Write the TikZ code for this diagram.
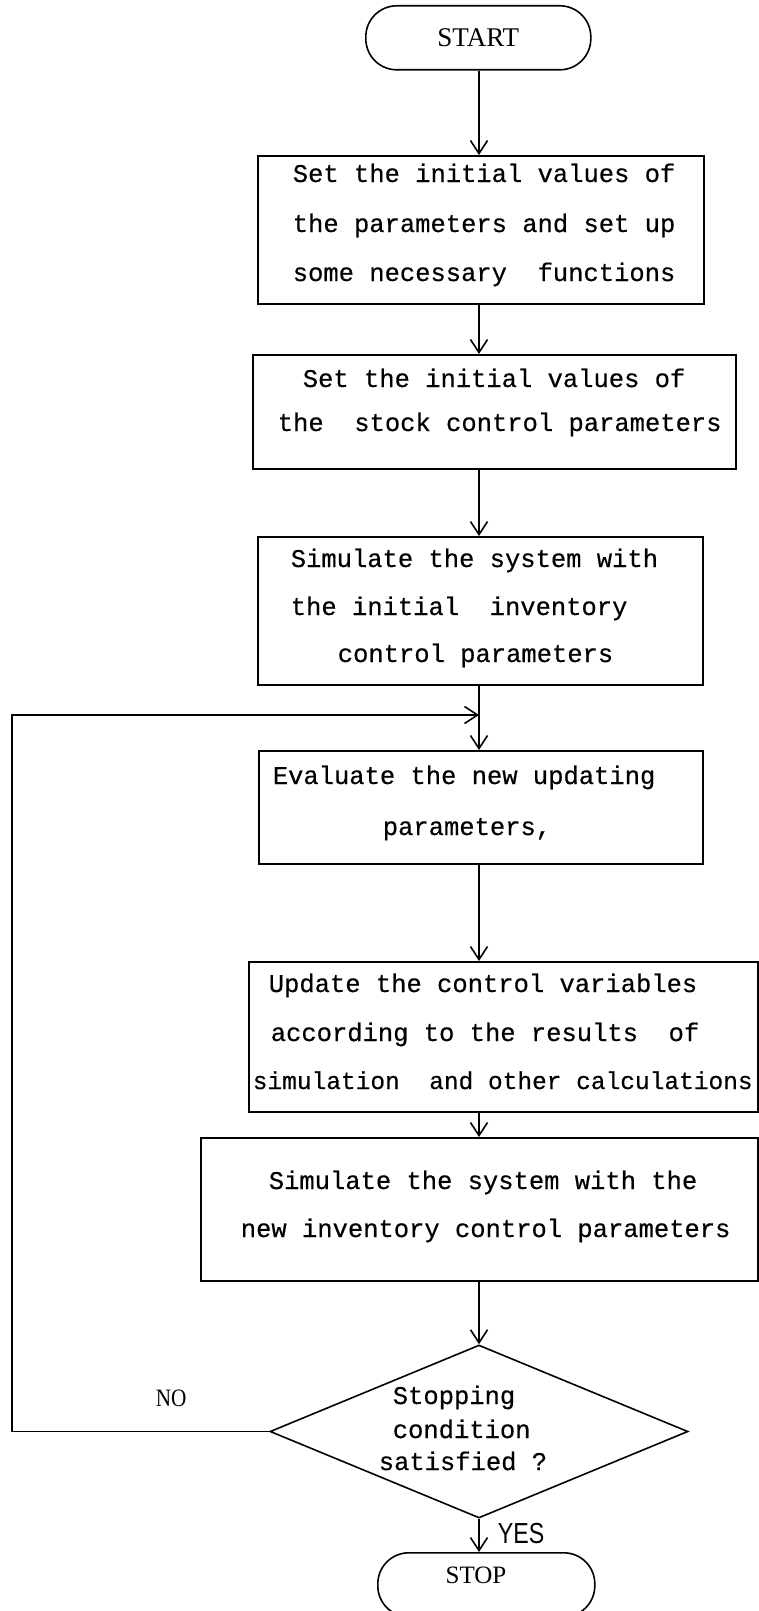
\documentclass[tikz,border=0pt]{standalone}
\usepackage{fontspec}
\usepackage{graphicx}
\setmainfont{Liberation Serif}
\setmonofont{Liberation Mono}[BoldFont={Liberation Mono}, BoldFeatures={FakeBold=0.4}]
\newfontfamily\sansf{Liberation Sans}
\usetikzlibrary{arrows.meta,shapes.geometric}
\begin{document}
\begin{tikzpicture}[x=1pt,y=-1pt,
  line width=1.6pt,
  boxs/.style={draw, line width=1.6pt, inner sep=0pt, anchor=north west},
  term/.style={draw, line width=1.6pt, inner sep=0pt, anchor=north west, rounded corners=31pt},
  tl/.style={font=\ttfamily\bfseries\fontsize{25.5pt}{25.5pt}\selectfont, anchor=base west, inner sep=0pt},
  tls/.style={font=\ttfamily\bfseries\fontsize{24.5pt}{24.5pt}\selectfont, anchor=base west, inner sep=0pt},
  arr/.style={-{Straight Barb[length=13pt,width=17pt]}, line width=1.6pt},
  lbl/.style={inner sep=0pt, anchor=base west}]
\useasboundingbox (0,0) rectangle (759,1611);
\clip (0,0) rectangle (759,1611);
\fill[white] (0,0) rectangle (759,1611);

\coordinate (mx) at (479,0);

% terminals
\node[term, minimum width=225pt, minimum height=64pt, font=\fontsize{27pt}{27pt}\selectfont] (start) at (365,5) {START};
\node[term, minimum width=217pt, minimum height=64pt] (stop) at (377,1552) {};
\node[inner sep=0pt, font=\fontsize{25pt}{25pt}\selectfont] (stoptxt) at (476,1575) {STOP};

% boxes
\node[boxs, minimum width=446pt, minimum height=148pt] (b1) at (257,155) {};
\node[boxs, minimum width=483pt, minimum height=114pt] (b2) at (252,354) {};
\node[boxs, minimum width=445pt, minimum height=148pt] (b3) at (257,536) {};
\node[boxs, minimum width=444pt, minimum height=113pt] (b4) at (258,750) {};
\node[boxs, minimum width=509pt, minimum height=150pt] (b5) at (248,961) {};
\node[boxs, minimum width=557pt, minimum height=143pt] (b6) at (200,1137) {};

% decision
\node[draw, diamond, line width=1.6pt, minimum width=418pt, minimum height=173pt, inner sep=0pt] (dec) at (479,1431.5) {};

% texts
\node[tl] (t1a) at (292,182) {Set the initial values of};
\node[tl] (t1b) at (292,232) {the parameters and set up};
\node[tl] (t1c) at (292,281) {some necessary\ \ functions};

\node[tl] (t2a) at (302,387) {Set the initial values of};
\node[tl] (t2b) at (277,431) {the\ \ stock control parameters};

\node[tl] (t3a) at (290,567) {Simulate the system with};
\node[tl] (t3b) at (290,615) {the initial\ \ inventory};
\node[tl] (t3c) at (337,662) {control parameters};

\node[tl] (t4a) at (272,784) {Evaluate the new updating};
\node[tl] (t4b) at (382,835) {parameters,};

\node[tl] (t5a) at (268,992) {Update the control variables};
\node[tl] (t5b) at (270,1041) {according to the results\ \ of};
\node[tls] (t5c) at (252,1089) {simulation\ \ and other calculations};

\node[tl] (t6a) at (268,1189) {Simulate the system with the};
\node[tl] (t6b) at (240,1237) {new inventory control parameters};

\node[tl] (tda) at (392,1404) {Stopping};
\node[tl] (tdb) at (392,1438) {condition};
\node[tl] (tdc) at (378,1470) {satisfied ?};

\node[lbl, font=\fontsize{25pt}{25pt}\selectfont] (no) at (155,1406) {\scalebox{0.85}[1]{NO}};
\node[lbl, font=\sansf\fontsize{29pt}{29pt}\selectfont] (yes) at (497,1543) {\scalebox{0.8}[1]{YES}};

% connectors
\draw[arr] (start.south -| mx) -- (b1.north -| mx);
\draw[arr] (b1.south -| mx) -- (b2.north -| mx);
\draw[arr] (b2.south -| mx) -- (b3.north -| mx);
\draw[arr] (b3.south -| mx) -- (b4.north -| mx);
\draw[arr] (b4.south -| mx) -- (b5.north -| mx);
\draw[arr] (b5.south -| mx) -- (b6.north -| mx);
\draw[arr] (b6.south -| mx) -- (dec.north);
\draw[arr] (dec.south) -- (dec.south |- stop.north);

\coordinate (lpB) at (12,1431.5);
\coordinate (lpT) at (12,715);
\coordinate (join) at (479,715);
\draw[arr] (dec.west) -- (lpB) -- (lpT) -- (join);
\end{tikzpicture}
\end{document}
